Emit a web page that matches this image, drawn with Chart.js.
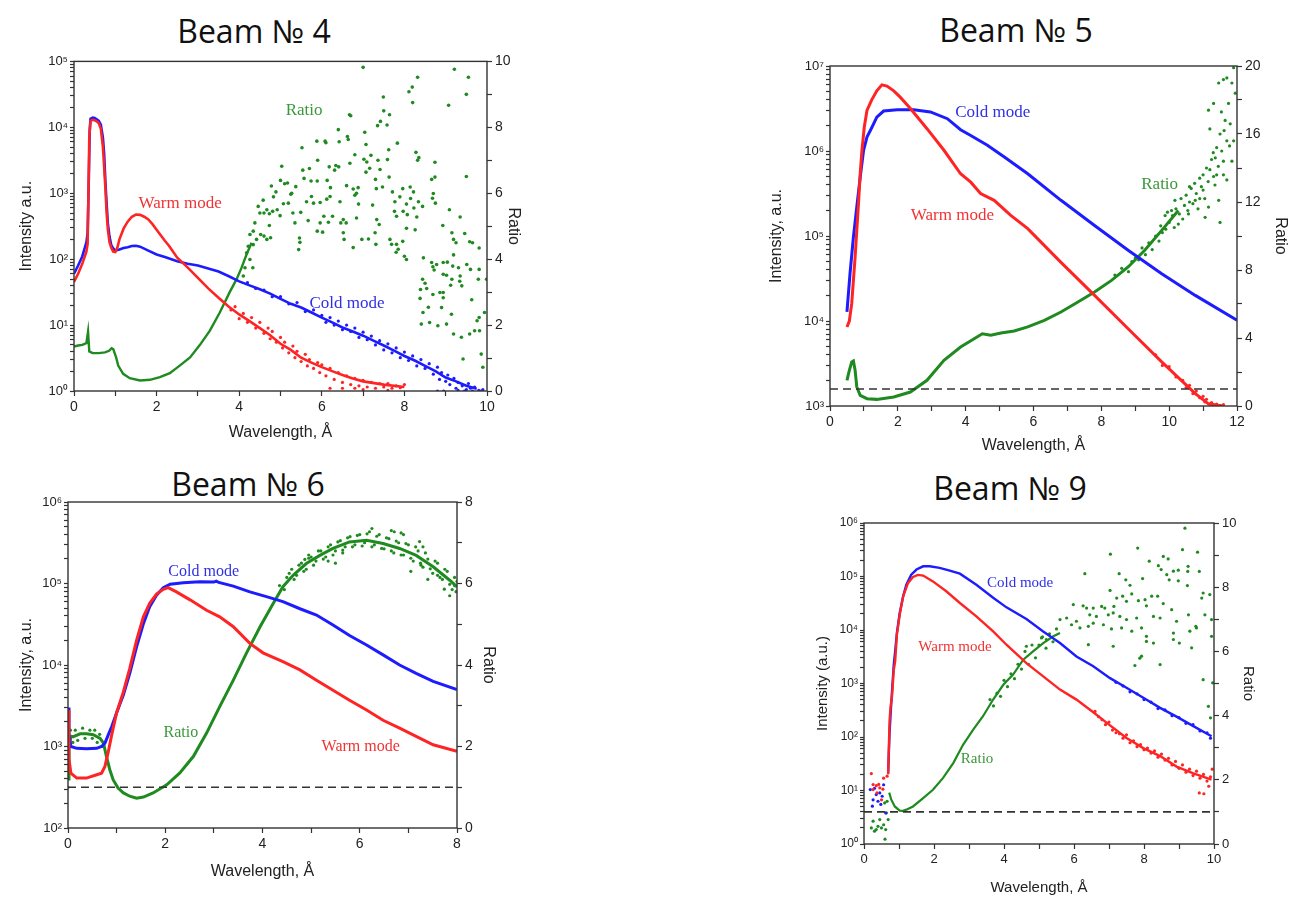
<!DOCTYPE html>
<html><head><meta charset="utf-8">
<script src="https://cdn.jsdelivr.net/npm/chart.js@4.4.1/dist/chart.umd.min.js"></script>
<style>
html,body{margin:0;padding:0;background:#fff;}
body{width:1310px;height:898px;position:relative;overflow:hidden;}
canvas{position:absolute;}
.ttl{position:absolute;font-family:"Open Sans","Noto Sans",sans-serif;font-size:32px;color:#111;transform:translate(-50%,-50%);white-space:nowrap;line-height:1;}
</style></head><body>
<div class="ttl" style="left:254px;top:31px">Beam № 4</div>
<div class="ttl" style="left:1016px;top:30px">Beam № 5</div>
<div class="ttl" style="left:248px;top:484px">Beam № 6</div>
<div class="ttl" style="left:1010px;top:488px">Beam № 9</div>
<canvas id="c4" width="540" height="400" style="left:0px;top:50px"></canvas>
<canvas id="c5" width="550" height="410" style="left:760px;top:50px"></canvas>
<canvas id="c6" width="520" height="400" style="left:0px;top:490px"></canvas>
<canvas id="c9" width="520" height="393" style="left:780px;top:505px"></canvas>
<script>
// ---------------- DATA ----------------
const unityRatio = 1;

// Beam № 4
const b4Cold = [[0,60],[0.1,80],[0.2,110],[0.3,180],[0.33,250],[0.36,1800],[0.38,9000],[0.4,13500],[0.45,14000],[0.5,13800],[0.55,13200],[0.6,12500],[0.65,11000],[0.7,7000],[0.73,4000],[0.76,1500],[0.79,700],[0.82,350],[0.86,220],[0.9,165],[0.95,145],[1.0,135],[1.1,140],[1.2,148],[1.3,152],[1.4,158],[1.5,160],[1.6,155],[1.8,135],[2.0,118],[2.2,108],[2.5,93],[2.75,85],[3.0,80],[3.25,72],[3.5,65],[3.75,55],[4.0,46],[4.25,40],[4.5,35],[4.75,30],[5.0,25],[5.25,21],[5.5,18.5],[5.75,15.5],[6.0,13],[6.25,11],[6.5,9.2],[6.75,8.0],[7.0,6.9],[7.25,5.8],[7.5,4.9],[7.75,4.1],[8.0,3.4],[8.25,2.9],[8.5,2.4],[8.75,2.0],[9.0,1.6],[9.25,1.4],[9.5,1.2],[9.75,1.08]];
const b4ColdNoise = [[4.2,44],[4.4,36],[4.6,34],[4.8,27],[5.0,27],[5.2,21],[5.4,22],[5.6,16],[5.8,17],[6.0,14],[6.1,11],[6.2,13],[6.3,10],[6.4,11.5],[6.5,8.5],[6.6,10],[6.7,8],[6.8,9],[6.9,6.5],[7.0,7.8],[7.1,6],[7.2,6.8],[7.3,5],[7.4,5.8],[7.5,4.2],[7.6,5.2],[7.7,3.8],[7.8,4.5],[7.9,3.2],[8.0,3.9],[8.1,2.9],[8.2,3.4],[8.3,2.4],[8.4,3.0],[8.5,2.2],[8.6,2.6],[8.7,1.8],[8.8,2.3],[8.85,1.5],[8.9,1.9],[9.0,1.4],[9.05,1.75],[9.1,1.25],[9.2,1.55],[9.25,1.1],[9.3,1.35],[9.4,1.2],[9.5,1.05],[9.55,1.3],[9.6,1.1],[9.7,1.15],[9.8,1.02],[9.9,1.05],[8.8,1.0],[8.95,1.0],[9.3,1.02],[9.45,1.0],[9.65,1.0],[9.85,1.0]];
const b4Warm = [[0,45],[0.1,60],[0.2,85],[0.3,130],[0.33,170],[0.35,1000],[0.37,7000],[0.4,12500],[0.45,13000],[0.5,12800],[0.55,12300],[0.6,11500],[0.65,9500],[0.7,5000],[0.73,2500],[0.76,1200],[0.79,500],[0.82,280],[0.86,180],[0.9,150],[0.95,130],[1.0,128],[1.05,150],[1.1,200],[1.2,290],[1.3,370],[1.4,440],[1.5,475],[1.6,470],[1.7,440],[1.8,400],[1.9,340],[2.0,280],[2.1,230],[2.2,190],[2.3,160],[2.4,130],[2.5,105],[2.75,75],[3.0,52],[3.25,36],[3.5,26],[3.75,19],[4.0,14.5],[4.25,11.5],[4.5,9.0],[4.75,7.0],[5.0,5.2],[5.25,4.2],[5.5,3.2],[5.75,2.7],[6.0,2.3],[6.25,2.0],[6.5,1.75],[6.75,1.55],[7.0,1.4],[7.5,1.25],[8.0,1.15]];
const b4WarmNoise = [[3.8,17],[3.9,19],[4.0,12.5],[4.1,15],[4.2,11],[4.3,13],[4.4,9],[4.5,11],[4.6,7.5],[4.7,9],[4.75,6.2],[4.8,8],[4.9,5.5],[5.0,6.5],[5.05,4.5],[5.1,5.5],[5.2,3.8],[5.3,4.8],[5.35,3.2],[5.4,4.0],[5.5,2.8],[5.6,3.6],[5.65,2.4],[5.7,3.0],[5.8,2.2],[5.9,2.7],[5.95,1.9],[6.0,2.5],[6.1,1.7],[6.2,2.2],[6.3,1.5],[6.4,1.9],[6.5,1.35],[6.6,1.7],[6.7,1.25],[6.8,1.55],[6.9,1.2],[7.0,1.45],[7.1,1.15],[7.2,1.35],[7.3,1.1],[7.4,1.3],[7.5,1.15],[7.6,1.3],[7.7,1.1],[7.8,1.2],[7.9,1.12],[8.0,1.25],[6.2,1.1],[6.5,1.1],[6.8,1.1],[7.0,1.05],[7.6,1.02]];
const b4Ratio = [[0,1.35],[0.1,1.38],[0.2,1.4],[0.3,1.45],[0.34,1.8],[0.37,1.2],[0.45,1.15],[0.6,1.15],[0.75,1.17],[0.85,1.22],[0.91,1.3],[0.95,1.27],[1.02,1.02],[1.07,0.77],[1.19,0.52],[1.35,0.39],[1.6,0.32],[1.84,0.34],[2.08,0.42],[2.32,0.54],[2.56,0.77],[2.81,1.02],[3.05,1.4],[3.29,1.83],[3.53,2.38],[3.77,3.0],[3.94,3.4],[4.06,3.75],[4.18,4.15],[4.3,4.5]];
const b4RatioNoise = [[7.0,9.82],[9.21,9.76],[8.32,9.52],[9.55,9.52],[8.19,9.22],[8.11,9.08],[9.5,9.0],[7.49,8.92],[8.2,8.75],[9.07,8.67],[7.5,8.5],[7.64,8.38],[6.67,8.38],[6.7,8.35],[7.42,8.18],[7.35,8.05],[7.58,8.07],[6.4,7.93],[7.04,7.85],[6.62,7.72],[6.64,7.63],[5.88,7.58],[6.08,7.58],[6.1,7.53],[6.42,7.56],[7.83,7.52],[5.52,7.38],[7.07,7.48],[8.28,7.24],[8.35,7.08],[8.32,7.0],[6.8,7.17],[7.62,7.32],[7.02,7.03],[7.19,7.15],[7.09,6.95],[7.36,7.0],[7.59,7.02],[5.9,7.0],[8.74,6.94],[5.03,6.82],[6.34,6.84],[6.41,6.8],[6.18,6.8],[6.31,6.7],[6.68,6.91],[5.54,6.7],[5.7,6.75],[7.16,6.76],[7.41,6.72],[7.07,6.64],[9.5,6.51],[8.74,6.49],[8.66,6.42],[7.63,6.49],[7.3,6.42],[4.78,6.22],[5.0,6.39],[5.1,6.29],[5.17,6.31],[5.25,5.97],[5.37,6.2],[5.57,6.45],[5.74,6.37],[5.89,6.37],[6.13,6.39],[6.21,6.17],[6.6,6.23],[6.76,6.13],[6.88,6.17],[7.32,6.14],[7.47,6.19],[7.71,6.04],[7.96,6.14],[8.14,6.19],[8.22,6.04],[8.7,5.99],[8.68,5.85],[8.75,5.7],[4.58,5.79],[4.83,5.89],[4.89,6.04],[5.07,5.68],[5.19,5.7],[5.27,6.0],[5.63,5.74],[5.75,5.9],[5.8,5.7],[5.96,5.72],[6.12,5.82],[6.2,5.9],[6.44,5.74],[6.8,5.94],[6.84,6.0],[6.89,5.67],[7.23,5.64],[7.77,5.74],[7.89,5.89],[8.05,5.67],[8.15,5.84],[8.34,5.74],[4.46,5.6],[4.5,5.4],[4.6,5.4],[4.67,5.5],[4.73,5.38],[4.81,5.45],[4.92,5.5],[4.99,5.32],[5.3,5.4],[5.49,5.42],[5.67,5.17],[5.96,5.1],[6.05,5.3],[6.16,5.12],[6.26,5.3],[6.46,5.1],[6.52,5.2],[6.59,5.1],[6.84,5.25],[7.33,5.2],[7.39,5.05],[7.76,5.45],[7.81,5.3],[7.97,5.45],[8.07,5.35],[8.23,5.55],[8.3,5.28],[8.44,5.6],[9.09,5.5],[9.35,5.28],[4.38,5.1],[4.34,4.85],[4.26,4.75],[4.42,4.6],[4.52,4.75],[4.73,5.02],[4.67,4.6],[4.76,4.65],[4.6,4.7],[5.35,5.1],[5.46,4.64],[5.47,4.51],[5.44,4.29],[5.89,4.85],[6.02,4.82],[6.52,4.8],[6.54,4.6],[6.76,4.35],[6.97,4.6],[7.13,4.61],[7.29,4.8],[7.31,4.45],[7.65,4.6],[7.69,4.45],[7.81,4.45],[7.8,4.21],[7.96,4.54],[8.0,4.09],[8.05,3.99],[7.85,4.3],[8.05,4.94],[8.26,4.89],[8.93,5.02],[9.15,4.8],[9.19,4.6],[9.25,4.5],[9.65,4.5],[9.81,4.34],[8.46,4.04],[8.66,3.9],[8.78,3.84],[8.94,3.9],[9.04,3.91],[9.17,3.79],[9.31,3.74],[9.51,3.84],[9.6,3.69],[9.81,3.69],[9.99,3.39],[8.69,3.77],[8.72,3.67],[8.94,3.54],[9.02,3.51],[9.15,3.39],[9.35,3.49],[9.39,3.19],[9.12,3.21],[8.86,2.99],[8.94,2.99],[8.44,3.39],[8.5,3.27],[8.54,3.11],[8.38,2.81],[8.58,2.54],[9.63,2.77],[9.79,3.39],[8.39,3.08],[8.45,2.38],[8.41,2.03],[8.61,2.08],[8.81,1.98],[9.02,2.03],[9.19,1.73],[9.38,1.63],[9.42,0.97],[9.58,1.73],[9.7,1.83],[9.82,1.83],[9.76,2.13],[9.94,2.38],[9.86,1.12],[9.9,0.72],[9.81,2.23],[9.58,4.53],[9.46,4.78],[9.19,4.13],[9.34,3.33],[8.94,2.83],[8.69,2.93],[8.9,2.53],[9.14,2.33],[4.1,3.49],[4.14,3.74],[4.26,3.99],[4.18,4.19],[4.22,4.39],[4.34,4.44],[4.33,3.74]];

// Beam № 5
const b5Cold = [[0.5,12800],[0.59,36000],[0.69,97000],[0.79,220000],[0.89,490000],[0.99,1020000],[1.09,1460000],[1.23,1880000],[1.38,2500000],[1.58,2950000],[1.98,3060000],[2.47,3050000],[2.96,2880000],[3.46,2400000],[3.85,1780000],[4.15,1520000],[4.64,1170000],[5.14,850000],[5.83,540000],[6.81,263000],[7.8,133000],[8.79,68000],[9.78,36000],[10.77,20000],[12,10200]];
const b5Warm = [[0.5,8500],[0.57,10000],[0.64,16000],[0.69,30000],[0.74,56000],[0.79,117000],[0.84,240000],[0.89,540000],[0.94,1000000],[1.01,1900000],[1.09,3000000],[1.23,4000000],[1.38,5100000],[1.53,6000000],[1.68,5800000],[1.88,5100000],[2.07,4300000],[2.37,3160000],[2.86,1830000],[3.36,1020000],[3.85,540000],[4.15,430000],[4.44,316000],[4.84,263000],[5.33,175000],[5.83,122000],[6.81,49000],[7.8,20000],[8.79,8100],[9.78,3300],[10.77,1400],[11.16,1060],[11.56,1000]];
const b5WarmNoise = [[9.6,4000],[9.8,3000],[10.0,2900],[10.2,2200],[10.4,2000],[10.5,1650],[10.6,1750],[10.7,1400],[10.8,1500],[10.9,1250],[11.0,1300],[11.05,1120],[11.1,1200],[11.2,1050],[11.25,1100],[11.3,1020],[11.4,1050],[11.5,1020],[11.6,1040]];
const b5Ratio = [[0.5,1.51],[0.57,2.1],[0.64,2.59],[0.69,2.65],[0.74,2.1],[0.79,1.12],[0.89,0.63],[1.09,0.43],[1.38,0.39],[1.88,0.53],[2.37,0.82],[2.86,1.51],[3.36,2.69],[3.85,3.47],[4.25,3.96],[4.49,4.25],[4.74,4.16],[5.04,4.29],[5.43,4.41],[5.83,4.65],[6.32,5.04],[6.81,5.53],[7.31,6.12],[7.8,6.71],[8.3,7.39],[8.79,8.18],[9.28,9.16],[9.78,10.33],[10.27,11.5]];
const b5RatioNoise = [[8.4,7.7],[8.6,8.1],[8.8,7.9],[8.9,8.5],[9.0,8.7],[9.1,8.6],[9.2,9.3],[9.3,8.9],[9.4,9.6],[9.5,9.2],[9.6,10.0],[9.7,9.7],[9.75,10.6],[9.8,10.2],[9.9,10.4],[9.95,11.4],[10.0,10.8],[10.1,11.2],[10.15,10.5],[10.2,11.6],[10.3,11.3],[10.35,12.2],[10.4,11.0],[10.45,11.8],[10.5,12.4],[10.55,11.5],[10.6,12.0],[10.65,12.8],[10.7,11.9],[10.75,13.1],[10.8,12.5],[10.85,11.6],[10.9,13.4],[10.95,12.9],[11.0,13.6],[11.05,12.2],[11.1,14.0],[11.15,13.2],[11.16,17.4],[11.31,17.8],[11.46,19.0],[11.6,19.2],[11.7,19.3],[11.9,19.9],[11.54,17.3],[11.65,16.8],[11.8,16.6],[11.7,15.6],[11.9,15.6],[11.2,16.3],[11.36,14.6],[11.31,13.5],[11.46,12.1],[11.5,10.8],[11.6,14.4],[11.7,13.3],[11.85,14.4],[11.16,11.7],[11.06,11.1],[10.77,12.1],[10.57,11.3],[10.17,12.1],[10.07,11.5],[9.88,11.2],[10.27,10.7],[11.4,15.2],[11.5,16.0],[11.75,17.8],[11.95,18.4],[11.85,19.0],[11.25,14.5],[11.35,13.0],[11.45,14.1],[11.55,15.0],[11.6,13.6],[11.2,13.9],[11.3,14.9],[10.9,12.2],[10.6,12.9],[11.0,12.7],[11.4,13.6],[11.62,16.2],[11.78,15.3]];

// Beam № 6
const b6Cold = [[0,3000],[0.02,1400],[0.06,1000],[0.18,950],[0.38,940],[0.59,950],[0.69,1000],[0.76,1100],[0.83,1400],[0.9,1760],[1.0,2600],[1.14,4300],[1.27,7900],[1.41,16700],[1.55,32000],[1.68,52000],[1.82,72000],[1.96,89000],[2.1,98000],[2.37,102000],[2.71,105000],[3.0,104000],[3.05,107000],[3.1,103000],[3.4,93000],[3.74,79000],[4.08,69000],[4.42,60000],[4.77,49000],[5.11,41000],[5.45,31000],[5.79,23000],[6.14,17600],[6.48,13300],[6.82,10000],[7.16,7900],[7.51,6300],[8.0,5000]];
const b6Warm = [[0,2800],[0.02,700],[0.06,470],[0.18,410],[0.38,410],[0.59,450],[0.69,470],[0.76,570],[0.83,870],[0.9,1400],[1.0,2600],[1.14,4700],[1.27,9100],[1.41,20000],[1.55,39000],[1.68,57000],[1.82,74000],[1.96,85000],[2.06,89000],[2.23,79000],[2.51,63000],[2.85,47000],[3.12,39000],[3.4,29500],[3.74,18400],[4.01,14100],[4.42,11000],[4.77,8700],[5.11,6500],[5.45,4900],[5.79,3700],[6.14,2800],[6.48,2100],[6.82,1680],[7.16,1330],[7.51,1050],[8.0,870]];
const b6Ratio = [[0,1.2],[0.02,2.0],[0.06,2.25],[0.11,2.24],[0.25,2.31],[0.38,2.31],[0.52,2.29],[0.66,2.2],[0.73,2.08],[0.79,1.76],[0.86,1.43],[0.93,1.18],[1.03,0.98],[1.14,0.86],[1.27,0.78],[1.41,0.73],[1.55,0.76],[1.75,0.86],[2.03,1.06],[2.3,1.35],[2.58,1.76],[2.85,2.33],[3.12,2.98],[3.4,3.63],[3.67,4.29],[3.95,4.94],[4.22,5.51],[4.42,5.92],[4.63,6.2],[4.9,6.49],[5.18,6.69],[5.45,6.86],[5.79,7.02],[6.14,7.06],[6.48,6.98],[6.82,6.86],[7.16,6.69],[7.51,6.41],[7.85,6.08],[8.0,5.92]];
const b6RatioNoise = [[0.05,2.4],[0.1,2.1],[0.15,2.4],[0.2,2.15],[0.3,2.45],[0.35,2.2],[0.45,2.4],[0.5,2.2],[0.55,2.4],[0.6,2.1],[0.65,2.3],[0.7,2.0],[0.0,1.0],[0.01,1.6],[4.5,6.15],[4.6,6.35],[4.7,6.2],[4.8,6.5],[4.87,6.59],[4.9,6.35],[5.0,6.65],[5.1,6.55],[5.2,6.8],[5.3,6.65],[5.4,6.95],[5.5,6.8],[5.6,7.05],[5.7,6.9],[5.8,7.15],[5.9,6.95],[6.0,7.2],[6.1,7.0],[6.2,7.27],[6.3,6.95],[6.4,7.2],[6.5,6.85],[6.6,7.1],[6.71,7.27],[6.7,6.75],[6.8,7.0],[6.85,7.24],[6.9,6.7],[7.0,6.95],[7.1,6.55],[7.2,6.8],[7.23,7.03],[7.26,6.45],[7.3,6.4],[7.4,6.6],[7.5,6.25],[7.6,6.5],[7.7,6.1],[7.74,5.86],[7.8,6.3],[7.9,5.85],[8.0,6.05],[7.85,5.7],[7.6,6.2],[6.25,7.35],[6.65,7.3],[5.5,6.5],[6.9,7.2],[7.3,6.9],[7.05,6.3],[7.4,6.1],[7.95,5.95],[4.95,6.7],[5.35,6.55],[5.65,6.75],[4.35,5.95],[4.45,5.85],[4.55,6.25],[4.65,6.1],[4.75,6.45],[4.85,6.3],[4.95,6.62],[5.05,6.45],[5.15,6.8],[5.25,6.6],[5.35,6.9],[5.45,6.7],[5.55,7.02],[5.65,6.82],[5.75,7.12],[5.85,6.9],[5.95,7.18],[6.05,6.92],[6.15,7.22],[6.25,6.9],[6.35,7.16],[6.45,6.86],[6.55,7.12],[6.65,6.8],[6.75,7.04],[6.85,6.7],[6.95,6.98],[7.05,6.62],[7.15,6.9],[7.25,6.5],[7.35,6.75],[7.45,6.36],[7.55,6.55],[7.65,6.15],[7.75,6.35],[7.85,5.98],[7.95,6.15],[7.98,5.8]];

// Beam № 9
const b9Cold = [[0.69,21],[0.73,118],[0.76,263],[0.8,710],[0.85,2240],[0.89,4000],[0.94,8800],[1.02,20800],[1.12,43000],[1.21,70000],[1.35,108000],[1.5,135000],[1.69,155000],[1.88,155000],[2.16,145000],[2.45,129000],[2.74,113000],[3.21,70000],[3.69,40000],[4.07,26500],[4.64,16000],[5.12,9400],[5.6,5700],[6.07,3200],[6.55,2100],[7.03,1260],[7.5,830],[7.98,540],[8.46,350],[8.93,240],[9.41,160],[9.93,103]];
const b9ColdNoise = [[0.18,10.4],[0.26,6.7],[0.35,8.4],[0.45,9.0],[0.4,6.3],[0.52,7.8],[0.62,3.8],[0.24,5.1],[0.56,12.8],[0.3,11],[0.48,5.5],[7.2,1050],[7.4,900],[7.6,700],[7.8,640],[8.0,500],[8.2,450],[8.4,340],[8.6,320],[8.8,250],[9.0,230],[9.2,180],[9.4,170],[9.6,130],[9.8,120],[9.9,95]];
const b9Warm = [[0.69,20],[0.73,196],[0.76,375],[0.8,575],[0.85,1780],[0.89,2600],[0.94,8200],[1.02,19300],[1.12,43000],[1.26,76000],[1.4,98000],[1.54,107000],[1.69,104000],[1.97,81000],[2.35,53000],[2.74,32000],[3.21,18000],[3.69,9400],[4.07,5300],[4.64,2400],[5.12,1360],[5.6,770],[6.07,500],[6.55,290],[7.03,165],[7.5,96],[7.98,62],[8.46,44],[8.93,28],[9.41,21],[9.93,16]];
const b9WarmNoise = [[0.21,20.7],[0.26,12.9],[0.35,12.3],[0.45,11.2],[0.54,10.6],[0.37,9.0],[0.26,10.4],[0.56,17],[0.66,18.5],[0.5,6.7],[0.42,13],[6.6,300],[6.7,240],[6.8,210],[6.9,170],[7.0,190],[7.1,135],[7.2,120],[7.3,115],[7.4,95],[7.5,110],[7.6,78],[7.7,85],[7.8,66],[7.9,72],[8.0,58],[8.1,62],[8.2,50],[8.3,55],[8.4,42],[8.5,48],[8.6,37],[8.7,40],[8.8,30],[8.9,35],[9.0,26],[9.1,30],[9.2,22],[9.3,25],[9.4,19],[9.5,23],[9.6,17],[9.7,20],[9.8,15],[9.9,18],[9.58,9.0],[9.71,8.7],[9.95,25],[9.85,12]];
const b9Ratio = [[0.72,1.6],[0.78,1.38],[0.88,1.17],[1.02,1.04],[1.1,1.03],[1.21,1.07],[1.4,1.17],[1.69,1.43],[1.97,1.69],[2.26,2.06],[2.55,2.52],[2.83,3.09],[3.12,3.56],[3.4,3.98],[3.69,4.5],[3.98,4.96],[4.26,5.28],[4.55,5.74],[4.83,6.0],[5.12,6.26],[5.41,6.47],[5.6,6.57]];
const b9RatioNoise = [[0.21,0.5],[0.26,0.71],[0.35,0.45],[0.45,0.76],[0.56,0.6],[0.62,0.45],[0.6,0.15],[0.3,0.4],[0.5,0.5],[0.69,0.76],[0.64,0.97],[0.59,1.28],[0.66,1.33],[0.4,0.55],[3.6,4.5],[3.7,4.3],[3.8,4.7],[3.9,4.6],[4.0,5.1],[4.1,4.9],[4.2,5.3],[4.3,5.15],[4.4,5.6],[4.5,5.45],[4.6,6.0],[4.64,6.16],[4.7,5.6],[4.8,6.2],[4.9,5.8],[5.0,6.2],[5.07,6.42],[5.1,6.45],[5.2,6.1],[5.21,6.37],[5.3,6.55],[5.4,6.3],[5.5,6.7],[9.17,9.84],[7.04,9.03],[7.82,9.22],[8.15,8.81],[8.55,8.96],[8.69,8.88],[9.1,9.17],[9.53,9.09],[8.41,8.67],[8.49,8.55],[8.65,8.39],[8.72,8.23],[8.84,8.5],[8.98,8.53],[9.26,8.65],[9.25,8.49],[9.58,8.49],[6.31,8.42],[7.29,8.42],[7.48,8.23],[7.6,8.06],[7.96,8.27],[8.98,8.2],[9.24,8.05],[8.39,7.72],[9.69,7.82],[9.88,7.77],[9.65,7.66],[7.03,7.9],[7.22,7.66],[7.39,7.72],[7.5,7.56],[7.65,7.79],[7.84,7.58],[8.03,7.61],[8.07,7.42],[8.22,7.72],[8.55,7.49],[8.79,7.3],[9.27,7.14],[5.98,7.46],[6.26,7.42],[6.36,7.35],[6.55,7.35],[6.79,7.4],[6.88,7.35],[7.14,7.4],[6.45,7.14],[6.64,7.09],[6.98,7.14],[7.12,7.2],[7.31,7.09],[7.5,6.99],[7.79,7.04],[8.27,7.09],[8.46,7.04],[8.93,6.94],[9.48,6.78],[9.74,7.14],[9.93,6.99],[5.6,6.99],[5.79,7.04],[5.93,6.83],[6.07,6.94],[6.17,6.73],[6.41,6.78],[6.55,6.88],[6.84,6.83],[7.07,6.7],[7.36,6.73],[7.65,6.63],[7.93,6.73],[8.07,6.47],[8.84,6.57],[9.31,6.63],[9.5,6.73],[8.27,6.26],[8.07,6.31],[9.01,6.26],[6.41,6.21],[7.12,6.16],[7.93,5.85],[7.88,5.79],[9.36,6.11],[8.84,6.37],[7.74,5.56],[8.46,5.59],[9.69,5.12],[9.9,3.93],[9.96,5.02],[9.84,4.29],[9.93,6.47]];

// ---------------- STYLE ----------------
const FONT = '"Liberation Sans", Arial, sans-serif';
const BLUE = '#1c1cff', RED = '#ff2424', GREEN = '#1f8a1f';
const TXT_BLUE = '#2f2fe6', TXT_RED = '#f03232', TXT_GREEN = '#3a983a';
const AXIS = '#333';
const SUP = {'0':'\u2070','1':'\u00b9','2':'\u00b2','3':'\u00b3','4':'\u2074','5':'\u2075','6':'\u2076','7':'\u2077','8':'\u2078','9':'\u2079'};

function logTicks(min, max) {
  const t = [];
  const e0 = Math.round(Math.log10(min)), e1 = Math.round(Math.log10(max));
  for (let e = e0; e < e1; e++) for (let m = 1; m < 10; m++) t.push({value: m * Math.pow(10, e)});
  t.push({value: max});
  return t;
}
function logLabel(v) {
  const e = Math.log10(v);
  if (Math.abs(e - Math.round(e)) > 1e-6) return '';
  return '10' + String(Math.round(e)).split('').map(c => SUP[c]).join('');
}
const pts = arr => arr.map(p => ({x: p[0], y: p[1]}));

const framePlugin = {
  id: 'frame',
  afterDatasetsDraw(chart) {
    const {ctx, chartArea: a} = chart;
    ctx.save(); ctx.strokeStyle = AXIS; ctx.lineWidth = 1.4;
    ctx.strokeRect(a.left, a.top, a.right - a.left, a.bottom - a.top);
    ctx.restore();
  }
};
const notesPlugin = {
  id: 'notes',
  afterDatasetsDraw(chart, args, opts) {
    const ctx = chart.ctx;
    (opts.items || []).forEach(it => {
      const xs = chart.scales.x, ys = chart.scales[it.axis];
      ctx.save();
      ctx.font = it.size + 'px "Liberation Serif", "Times New Roman", serif';
      ctx.fillStyle = it.color; ctx.textAlign = 'center'; ctx.textBaseline = 'middle';
      ctx.fillText(it.text, xs.getPixelForValue(it.x), ys.getPixelForValue(it.y));
      ctx.restore();
    });
  }
};

function lineDs(arr, color, w, axis) {
  return {data: pts(arr), yAxisID: axis, showLine: true, borderColor: color, backgroundColor: color,
          borderWidth: w, pointRadius: 0, tension: 0};
}
function dotDs(arr, color, r, axis) {
  return {data: pts(arr), yAxisID: axis, showLine: false, backgroundColor: color, borderColor: color,
          borderWidth: 0, pointRadius: r, pointHoverRadius: r};
}
function unityDs(xMax) {
  return {data: [{x: 0, y: unityRatio}, {x: xMax, y: unityRatio}], yAxisID: 'y1', showLine: true,
          borderColor: '#333', borderWidth: 1.6, borderDash: [8, 5], pointRadius: 0};
}

function makeChart(p) {
  const tickFont = {family: FONT, size: p.tickSize || 14};
  const logFont = {family: FONT, size: p.logSize || 13};
  const titleFont = {family: FONT, size: p.titleSize};
  const gridOpt = {drawOnChartArea: false, drawTicks: true, tickLength: 5, tickColor: AXIS, tickWidth: 1.2};
  new Chart(document.getElementById(p.canvas), {
    type: 'scatter',
    data: {datasets: p.datasets},
    options: {
      responsive: false, animation: false, devicePixelRatio: 1,
      layout: {padding: {top: p.topPad, left: 0, right: 0, bottom: 0}},
      plugins: {legend: {display: false}, tooltip: {enabled: false}, notes: {items: p.notes}},
      scales: {
        x: {type: 'linear', position: 'bottom', min: 0, max: p.xMax,
            ticks: {stepSize: 1, autoSkip: false, maxRotation: 0, font: tickFont, color: '#222', padding: 3,
                    callback: v => (Math.round(v) % 2 === 0 ? String(v) : '')},
            grid: gridOpt, border: {display: false},
            title: {display: true, text: 'Wavelength, Å', font: titleFont, color: '#222', padding: {top: 0, bottom: p.bottomPad}},
            afterFit: s => { s.height = p.bottomH; }},
        y: {type: 'logarithmic', position: 'left', min: p.yMin, max: p.yMax,
            afterBuildTicks: s => { s.ticks = logTicks(p.yMin, p.yMax); },
            ticks: {autoSkip: false, font: logFont, color: '#222', padding: 2, callback: v => logLabel(v)},
            grid: Object.assign({}, gridOpt, {tickLength: 4}), border: {display: false},
            title: {display: true, text: p.leftTitle, font: titleFont, color: '#222', padding: {top: p.leftPad, bottom: 0}},
            afterFit: s => { s.width = p.leftW; }},
        y1: {type: 'linear', position: 'right', min: 0, max: p.rMax,
             ticks: {stepSize: p.rStep, autoSkip: false, font: tickFont, color: '#222', padding: 3,
                     callback: v => (Math.round(v / p.rStep) % 2 === 0 ? String(v) : '')},
             grid: gridOpt, border: {display: false},
             title: {display: true, text: 'Ratio', font: titleFont, color: '#222', padding: {top: p.rightPad, bottom: 0}},
             afterFit: s => { s.width = p.rightW; }}
      }
    },
    plugins: [framePlugin, notesPlugin]
  });
}

makeChart({canvas: 'c4', xMax: 10, yMin: 1, yMax: 1e5, rMax: 10, rStep: 1,
  leftW: 74, rightW: 53, topPad: 8, bottomH: 59, leftTitle: 'Intensity a.u.',
  leftPad: 17.4, rightPad: 17.4, bottomPad: 7.4, titleSize: 16,
  datasets: [
    lineDs(b4Warm, RED, 2.6, 'y'), dotDs(b4WarmNoise, RED, 1.6, 'y'),
    lineDs(b4Cold, BLUE, 2.6, 'y'), dotDs(b4ColdNoise, BLUE, 1.6, 'y'),
    lineDs(b4Ratio, GREEN, 2.4, 'y1'), dotDs(b4RatioNoise, GREEN, 1.8, 'y1')
  ],
  notes: [
    {text: 'Warm mode', x: 2.57, y: 710, axis: 'y', color: TXT_RED, size: 17},
    {text: 'Cold mode', x: 6.61, y: 21, axis: 'y', color: TXT_BLUE, size: 17},
    {text: 'Ratio', x: 5.57, y: 8.5, axis: 'y1', color: TXT_GREEN, size: 17}
  ]});

makeChart({canvas: 'c5', xMax: 12, yMin: 1e3, yMax: 1e7, rMax: 20, rStep: 2,
  leftW: 70, rightW: 73, topPad: 16, bottomH: 54, leftTitle: 'Intensity, a.u.',
  leftPad: 7.4, rightPad: 20.4, bottomPad: 4.4, titleSize: 16,
  datasets: [
    unityDs(12),
    lineDs(b5Warm, RED, 3, 'y'), dotDs(b5WarmNoise, RED, 1.6, 'y'),
    lineDs(b5Cold, BLUE, 3, 'y'),
    lineDs(b5Ratio, GREEN, 3, 'y1'), dotDs(b5RatioNoise, GREEN, 1.6, 'y1')
  ],
  notes: [
    {text: 'Cold mode', x: 4.8, y: 2.85e6, axis: 'y', color: TXT_BLUE, size: 17},
    {text: 'Warm mode', x: 3.61, y: 1.75e5, axis: 'y', color: TXT_RED, size: 17},
    {text: 'Ratio', x: 9.72, y: 13.04, axis: 'y1', color: TXT_GREEN, size: 17}
  ]});

makeChart({canvas: 'c6', xMax: 8, yMin: 1e2, yMax: 1e6, rMax: 8, rStep: 1,
  leftW: 68, rightW: 63, topPad: 12, bottomH: 62, leftTitle: 'Intensity, a.u.',
  leftPad: 17.4, rightPad: 22.4, bottomPad: 8.4, titleSize: 16,
  datasets: [
    unityDs(8),
    lineDs(b6Warm, RED, 3, 'y'),
    lineDs(b6Cold, BLUE, 3, 'y'),
    lineDs(b6Ratio, GREEN, 3, 'y1'), dotDs(b6RatioNoise, GREEN, 1.6, 'y1')
  ],
  notes: [
    {text: 'Cold mode', x: 2.79, y: 1.41e5, axis: 'y', color: TXT_BLUE, size: 16},
    {text: 'Ratio', x: 2.32, y: 2.34, axis: 'y1', color: TXT_GREEN, size: 16},
    {text: 'Warm mode', x: 6.02, y: 991, axis: 'y', color: TXT_RED, size: 16}
  ]});

makeChart({canvas: 'c9', xMax: 10, yMin: 1, yMax: 1e6, rMax: 10, rStep: 1,
  leftW: 84, rightW: 86, topPad: 18, bottomH: 54, leftTitle: 'Intensity (a.u.)',
  leftPad: 34, rightPad: 43, bottomPad: 1, titleSize: 15, tickSize: 13, logSize: 12,
  datasets: [
    unityDs(10),
    lineDs(b9Warm, RED, 2.4, 'y'), dotDs(b9WarmNoise, RED, 1.6, 'y'),
    lineDs(b9Cold, BLUE, 2.4, 'y'), dotDs(b9ColdNoise, BLUE, 1.6, 'y'),
    lineDs(b9Ratio, GREEN, 2.2, 'y1'), dotDs(b9RatioNoise, GREEN, 1.6, 'y1')
  ],
  notes: [
    {text: 'Cold mode', x: 4.46, y: 7.6e4, axis: 'y', color: TXT_BLUE, size: 15},
    {text: 'Warm mode', x: 2.6, y: 4.8e3, axis: 'y', color: TXT_RED, size: 15},
    {text: 'Ratio', x: 3.23, y: 2.65, axis: 'y1', color: TXT_GREEN, size: 15}
  ]});
</script>
</body></html>
